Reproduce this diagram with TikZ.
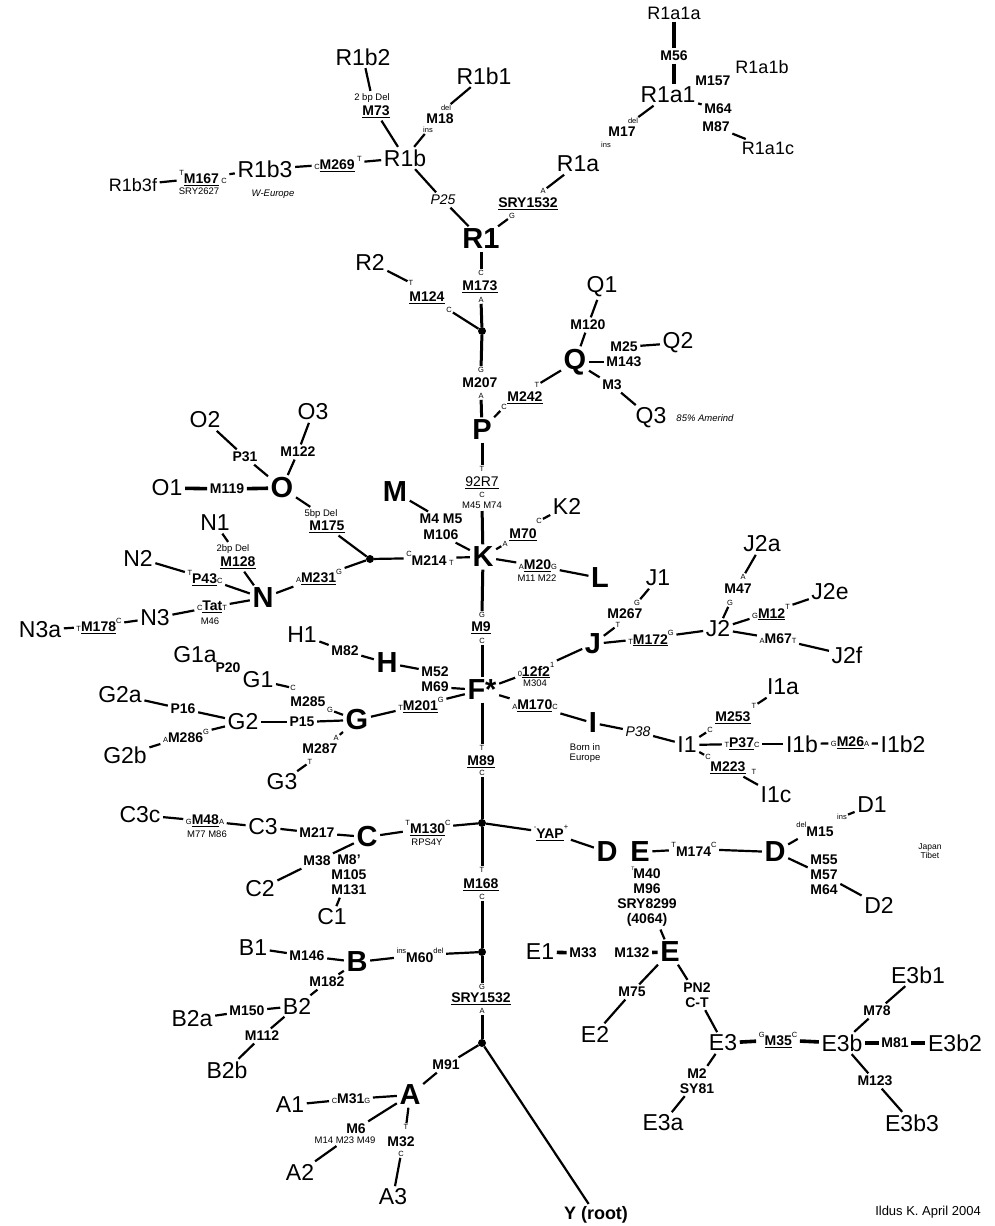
\documentclass[tikz,border=0pt]{standalone}
\usepackage{fontspec}
\setmainfont{Liberation Sans}
\usepackage{tikz}

\newcommand{\alle}[1]{{\fontsize{7.5}{8}\selectfont\mdseries #1}}
\newcommand{\alup}[1]{\raisebox{1.2ex}{\alle{#1}}}
\newcommand{\uln}[1]{\underline{#1}}

\begin{document}
\begin{tikzpicture}[x=1pt,y=-1pt,
	every node/.style={inner sep=2.5pt},
	hg/.style={font=\fontsize{29}{29}\selectfont\bfseries},
	sub/.style={font=\fontsize{23}{23}\selectfont},
	leaf/.style={font=\fontsize{18}{18}\selectfont},
	mut/.style={font=\fontsize{14}{15}\selectfont\bfseries, align=center},
	sml/.style={font=\fontsize{9.5}{10}\selectfont, align=center},
	al/.style={font=\fontsize{7.5}{8}\selectfont, inner sep=1pt},
	note/.style={font=\fontsize{9.5}{10}\selectfont\itshape},
	ital/.style={font=\fontsize{14}{14}\selectfont\itshape},
	bigdot/.style={circle, fill, inner sep=0pt, minimum size=8pt},
	br/.style={line width=2.2pt},
	trunk/.style={line width=3pt},
	thk/.style={line width=3.6pt}
	]
	\useasboundingbox (0,0) rectangle (994,1226);

	\node[leaf] (R1a1a) at (674,13) {R1a1a};
	\node[mut] (m56) at (674,56) {M56};
	\node[sub] (R1a1) at (668,95) {R1a1};
	\node[leaf] (R1a1b) at (762,67) {R1a1b};
	\node[mut] (m157) at (713,81) {M157};
	\node[mut] (m64a) at (718,109) {M64};
	\node[mut] (m87) at (716,127) {M87};
	\node[leaf] (R1a1c) at (768,148) {R1a1c};
	\node[mut] (m17) at (622,132) {M17};
	\node[al] (del17) at (633,121) {del};
	\node[al] (ins17) at (606,145) {ins};
	\node[sub] (R1a) at (578,164) {R1a};
	\node[al] (a1532) at (543,191) {A};
	\node[mut] (sry1) at (528,204) {\uln{SRY1532}};
	\node[al] (g1532) at (512,216) {G};
	\node[hg] (R1) at (481,239) {R1};

	\node[sub] (R1b2) at (363,57) {R1b2};
	\node[sml] (bp73) at (372,98) {2 bp Del};
	\node[mut] (m73) at (376,112) {\uln{M73}};
	\node[sub] (R1b1) at (484,76) {R1b1};
	\node[al] (del18) at (446,108) {del};
	\node[mut] (m18) at (440,119) {M18};
	\node[al] (ins18) at (428,130) {ins};
	\node[sub] (R1b) at (405,158) {R1b};
	\node[mut] (m269) at (338,164) {\alle{C}\uln{M269}\,\alup{T}};
	\node[sub] (R1b3) at (265,169) {R1b3};
	\node[note] (weu) at (273,194) {W-Europe};
	\node[mut] (m167) at (203,178) {\alup{T}\uln{M167}\,\alle{C}};
	\node[sml] (sry2627) at (199,191) {SRY2627};
	\node[leaf] (R1b3f) at (133,185) {R1b3f};
	\node[ital] (p25) at (443,200) {P25};

	\node[al] (c173) at (481,273) {C};
	\node[mut] (m173) at (480,287) {\uln{M173}};
	\node[al] (a173) at (481,300) {A};
	\node[bigdot] (j1) at (482,331) {};
	\node[al] (g207) at (481,370) {G};
	\node[mut] (m207) at (480,383) {M207};
	\node[al] (a207) at (481,396) {A};
	\node[hg] (P) at (482,430) {P};
	\node[sub] (R2) at (370,262) {R2};
	\node[al] (t124) at (411,283) {T};
	\node[mut] (m124) at (427,298) {\uln{M124}};
	\node[al] (c124) at (449,310) {C};
	\node[hg] (Q) at (575,362) {Q};
	\node[sub] (Q1) at (602,287) {Q1};
	\node[mut] (m120) at (588,325) {M120};
	\node[mut] (m25) at (624,347) {M25};
	\node[mut] (m143) at (624,362) {M143};
	\node[sub] (Q2) at (678,343) {Q2};
	\node[mut] (m3) at (612,385) {M3};
	\node[sub] (Q3) at (651,418) {Q3};
	\node[note] (amer) at (705,418) {85\% Amerind};
	\node[al] (t242) at (537,385) {T};
	\node[mut] (m242) at (525,398) {\uln{M242}};
	\node[al] (c242) at (504,407) {C};

	\node[al] (t92) at (482,469) {T};
	\node[mut, font=\fontsize{14}{15}\selectfont] (m92) at (482,483) {\uln{92R7}};
	\node[al] (c92) at (482,495) {C};
	\node[sml] (m4574) at (482,505) {M45 M74};
	\node[hg] (K) at (483,557) {K};
	\node[hg] (M) at (395,492) {M};
	\node[mut] (m45) at (441,519) {M4 M5};
	\node[mut] (m106) at (441,535) {M106};
	\node[mut] (m214) at (430,558) {\alup{C}M214\,\alle{T}};
	\node[bigdot] (j2) at (370,559) {};
	\node[sml] (bp175) at (321,514) {5bp Del};
	\node[mut] (m175) at (327,527) {\uln{M175}};
	\node[hg] (O) at (282,488) {O};
	\node[sub] (O1) at (167,488) {O1};
	\node[mut] (m119) at (227,489) {M119};
	\node[sub] (O2) at (205,420) {O2};
	\node[mut] (p31) at (245,457) {P31};
	\node[sub] (O3) at (313,412) {O3};
	\node[mut] (m122) at (298,452) {M122};
	\node[mut] (m231) at (319,577) {\alle{A}\uln{M231}\alup{G}};
	\node[hg] (N) at (263,598) {N};
	\node[sub] (N1) at (215,523) {N1};
	\node[sml] (bp128) at (233,549) {2bp Del};
	\node[mut] (m128) at (238,563) {\uln{M128}};
	\node[sub] (N2) at (138,558) {N2};
	\node[mut] (p43) at (205,578) {\alup{T}\uln{P43}\alle{C}};
	\node[sub] (N3) at (155,618) {N3};
	\node[mut] (tat) at (212,607) {\alle{C}\uln{Tat}\alle{T}};
	\node[sml] (m46) at (210,621) {M46};
	\node[sub] (N3a) at (40,630) {N3a};
	\node[mut] (m178) at (99,626) {\alle{T}\uln{M178}\alup{C}};
	\node[al] (a70) at (505,544) {A};
	\node[mut] (m70) at (523,535) {\uln{M70}};
	\node[al] (c70) at (539,521) {C};
	\node[sub] (K2) at (567,506) {K2};
	\node[mut] (m20) at (538,566) {\alle{A}\uln{M20}\alle{G}};
	\node[sml] (m1122) at (537,578) {M11 M22};
	\node[hg] (L) at (600,578) {L};
	\node[al] (g9) at (482,615) {G};
	\node[mut] (m9) at (481,628) {\uln{M9}};
	\node[al] (c9) at (482,641) {C};

	\node[hg] (F) at (482,690) {F*};
	\node[sub] (H1) at (302,635) {H1};
	\node[mut] (m82) at (345,651) {M82};
	\node[hg] (H) at (387,663) {H};
	\node[mut] (m52) at (435,672) {M52};
	\node[mut] (m69) at (435,687) {M69};
	\node[hg] (G) at (357,720) {G};
	\node[mut] (m201) at (421,705) {\alle{T}\uln{M201}\alup{G}};
	\node[sub] (G1a) at (195,655) {G1a};
	\node[mut] (p20) at (228,668) {P20};
	\node[sub] (G1) at (258,680) {G1};
	\node[al] (c285) at (293,688) {C};
	\node[mut] (m285) at (308,702) {M285};
	\node[al] (g285) at (330,710) {G};
	\node[sub] (G2a) at (120,695) {G2a};
	\node[mut] (p16) at (183,709) {P16};
	\node[sub] (G2) at (243,722) {G2};
	\node[mut] (p15) at (302,722) {P15};
	\node[mut] (m286) at (186,736) {\alle{A}M286\alup{G}};
	\node[sub] (G2b) at (125,755) {G2b};
	\node[al] (a287) at (336,738) {A};
	\node[mut] (m287) at (320,749) {M287};
	\node[al] (t287) at (310,762) {T};
	\node[sub] (G3) at (282,782) {G3};
	\node[al] (t89) at (482,748) {T};
	\node[mut] (m89) at (481,762) {\uln{M89}};
	\node[al] (c89) at (482,773) {C};
	\node[mut] (m12f2) at (536,670) {\alle{0}\uln{12f2}\alup{1}};
	\node[sml] (m304) at (535,683) {M304};
	\node[hg] (J) at (593,644) {J};
	\node[al] (g267) at (637,603) {G};
	\node[mut] (m267) at (625,614) {M267};
	\node[al] (t267) at (618,625) {T};
	\node[sub] (J1) at (658,578) {J1};
	\node[mut] (m172) at (651,638) {\alle{T}\uln{M172}\alup{G}};
	\node[sub] (J2) at (718,629) {J2};
	\node[sub] (J2a) at (762,544) {J2a};
	\node[al] (a47) at (743,577) {A};
	\node[mut] (m47) at (738,589) {M47};
	\node[al] (g47) at (730,603) {G};
	\node[mut] (m12) at (771,612) {\alle{G}\uln{M12}\alup{T}};
	\node[sub] (J2e) at (830,592) {J2e};
	\node[mut] (m67) at (778,639) {\alle{A}M67\alle{T}};
	\node[sub] (J2f) at (847,655) {J2f};
	\node[mut] (m170) at (535,706) {\alle{A}\uln{M170}\alle{C}};
	\node[hg] (I) at (593,723) {I};
	\node[sml] (born) at (585,753) {Born in\\Europe};
	\node[ital] (p38) at (638,732) {P38};
	\node[sub] (I1) at (687,745) {I1};
	\node[al] (c253) at (710,730) {C};
	\node[mut] (m253) at (733,718) {\uln{M253}};
	\node[al] (t253) at (754,706) {T};
	\node[sub] (I1a) at (783,687) {I1a};
	\node[mut] (p37) at (742,744) {\alle{T}\uln{P37}\alle{C}};
	\node[sub] (I1b) at (802,744) {I1b};
	\node[mut] (m26) at (850,743) {\alle{G}\uln{M26}\alle{A}};
	\node[sub] (I1b2) at (903,744) {I1b2};
	\node[al] (c223) at (708,757) {C};
	\node[mut] (m223) at (728,768) {\uln{M223}};
	\node[al] (t223) at (754,772) {T};
	\node[sub] (I1c) at (776,795) {I1c};

	\node[bigdot] (j3) at (482,823) {};
	\node[hg] (C) at (367,837) {C};
	\node[mut] (m130) at (428,828) {\alup{T}\uln{M130}\alup{C}};
	\node[sml] (rps) at (427,842) {RPS4Y};
	\node[mut] (yap) at (551,833) {\alup{-}\uln{YAP}\alup{+}};
	\node[hg] (DE) at (607,852) {D};
	\node[hg] (Eu) at (640,852) {E};
	\node[mut] (m174) at (694,849) {\alup{T}M174\alup{C}};
	\node[hg] (Dn) at (775,852) {D};
	\node[mut] (m15) at (815,829) {\alup{del}M15};
	\node[al] (ins15) at (842,817) {ins};
	\node[sub] (D1) at (872,805) {D1};
	\node[mut] (m55) at (824,875) {M55\\M57\\M64};
	\node[sub] (D2) at (879,905) {D2};
	\node[sml, font=\fontsize{8.5}{9}\selectfont] (japan) at (930,851) {Japan\\Tibet};
	\node[al, font=\fontsize{5}{5}\selectfont] (t40) at (633,869) {T};
	\node[mut] (m40) at (647,898) {M40\\M96\\SRY8299\\(4064)};
	\node[hg] (El) at (670,952) {E};
	\node[sub] (C3) at (263,827) {C3};
	\node[mut] (m217) at (317,833) {M217};
	\node[mut] (m48) at (205,821) {\alle{G}\uln{M48}\alle{A}};
	\node[sml] (m7786) at (207,834) {M77 M86};
	\node[sub] (C3c) at (140,815) {C3c};
	\node[mut] (m38) at (317,861) {M38};
	\node[mut] (m8) at (349,875) {M8'\\M105\\M131};
	\node[sub] (C1) at (332,917) {C1};
	\node[sub] (C2) at (260,889) {C2};
	\node[al] (t168) at (482,870) {T};
	\node[mut] (m168) at (481,885) {\uln{M168}};
	\node[al] (c168) at (482,897) {C};

	\node[bigdot] (j4) at (482,952) {};
	\node[hg] (B) at (357,962) {B};
	\node[mut] (m60) at (420,955) {\alup{ins}M60\alup{del}};
	\node[sub] (B1) at (253,948) {B1};
	\node[mut] (m146) at (307,956) {M146};
	\node[mut] (m182) at (327,982) {M182};
	\node[sub] (B2) at (297,1006) {B2};
	\node[mut] (m150) at (247,1011) {M150};
	\node[sub] (B2a) at (192,1019) {B2a};
	\node[mut] (m112) at (262,1036) {M112};
	\node[sub] (B2b) at (227,1070) {B2b};
	\node[al] (g1532b) at (482,987) {G};
	\node[mut] (sry3) at (481,999) {\uln{SRY1532}};
	\node[al] (a1532b) at (482,1011) {A};
	\node[bigdot] (j5) at (482,1043) {};
	\node[mut] (m91) at (446,1065) {M91};
	\node[hg] (A) at (410,1095) {A};
	\node[sub] (A1) at (290,1105) {A1};
	\node[mut] (m31) at (351,1099) {\alle{C}M31\alle{G}};
	\node[mut] (m6) at (356,1129) {M6};
	\node[sml] (m1423) at (345,1140) {M14 M23 M49};
	\node[sub] (A2) at (300,1172) {A2};
	\node[al] (t32) at (406,1127) {T};
	\node[mut] (m32) at (401,1142) {M32};
	\node[al] (c32) at (401,1154) {C};
	\node[sub] (A3) at (393,1197) {A3};
	\node[font=\fontsize{18}{18}\selectfont\bfseries] (Y) at (596,1215) {Y (root)};
	\node[font=\fontsize{13}{13}\selectfont] (ildus) at (928,1212) {Ildus K. April 2004};

	\node[sub] (E1) at (540,952) {E1};
	\node[mut] (m33) at (583,953) {M33};
	\node[mut] (m132) at (632,953) {M132};
	\node[mut] (m75) at (632,992) {M75};
	\node[sub] (E2) at (595,1034) {E2};
	\node[mut] (pn2) at (697,995) {PN2\\C-T};
	\node[sub] (E3) at (723,1043) {E3};
	\node[mut] (m35) at (778,1040) {\alup{G}\uln{M35}\alup{C}};
	\node[sub] (E3b) at (842,1043) {E3b};
	\node[mut] (m81) at (895,1043) {M81};
	\node[sub] (E3b2) at (955,1043) {E3b2};
	\node[mut] (m78) at (877,1011) {M78};
	\node[sub] (E3b1) at (918,975) {E3b1};
	\node[mut] (m123) at (875,1081) {M123};
	\node[sub] (E3b3) at (912,1123) {E3b3};
	\node[mut] (m2) at (697,1081) {M2\\SY81};
	\node[sub] (E3a) at (663,1123) {E3a};

	\draw[thk] (m56) -- (R1a1.north -| m56);
	\foreach \a/\b in {R1/c173, a173/j1, j1/g207, a207/P, P/t92, m4574/K, K/g9, c9/F,
		F/t89, c89/j3, j3/t168, c168/j4, j4/g1532b, a1532b/j5}
		\draw[trunk] (\a) -- (\b);
	\foreach \a/\b in {R1a1a/m56, O1/m119, m119/O, E1/m33, m132/El,
		E3/m35, m35/E3b, E3b/m81, m81/E3b2}
		\draw[thk] (\a) -- (\b);
	\foreach \a/\b in {R1a1/del17, R1a/a1532, g1532/R1, R1a1/m64a, m87/R1a1c,
		R1b2/bp73, m73/R1b, R1b1/del18, ins18/R1b, R1b/m269, m269/R1b3, R1b3/m167, m167/R1b3f,
		R1b/p25, p25/R1, R2/t124, c124/j1, Q1/m120, m120/Q, Q/m143, m25/Q2, Q/m3, m3/Q3,
		Q/t242, c242/P, O2/p31, p31/O, O3/m122, m122/O, O/bp175, m175/j2, j2/m214, m214/K,
		M/m45, m106/K, N/m231, m231/j2, N1/bp128, m128/N, N2/p43, p43/N, N3/tat, tat/N,
		N3a/m178, m178/N3, K/a70, c70/K2, K/m20, m20/L,
		H1/m82, m82/H, H/m52, m69/F, G/m201, m201/F, G1/c285, g285/G, G2a/p16, p16/G2,
		G2/p15, p15/G, G2/m286, m286/G2b, G/a287, t287/G3,
		F/m12f2, m12f2/J, J/t267, g267/J1, J/m172, m172/J2, J2a/a47, g47/J2, J2/m12, m12/J2e,
		J2/m67, m67/J2f, F/m170, m170/I, I/p38, p38/I1, I1/c253, t253/I1a, I1/p37, p37/I1b,
		I1b/m26, m26/I1b2, I1/c223, m223/I1c,
		C/m130, m130/j3, j3/yap, yap/DE, C3/m217, m217/C, C3c/m48, m48/C3, C/m38, m38/C2, m8/C1,
		Eu/m174, m174/Dn, Dn/m15, ins15/D1, Dn/m55, m55/D2, m40/El,
		El/m75, m75/E2, El/pn2, pn2/E3, E3b/m78, m78/E3b1, E3b/m123, m123/E3b3, E3/m2, m2/E3a,
		B/m60, m60/j4, B1/m146, m146/B, B/m182, m182/B2, B2/m150, m150/B2a, B2/m112, m112/B2b,
		j5/m91, m91/A, A1/m31, m31/A, A/m6, m1423/A2, A/t32, c32/A3, j5/Y}
		\draw[br] (\a) -- (\b);
\end{tikzpicture}
\end{document}
